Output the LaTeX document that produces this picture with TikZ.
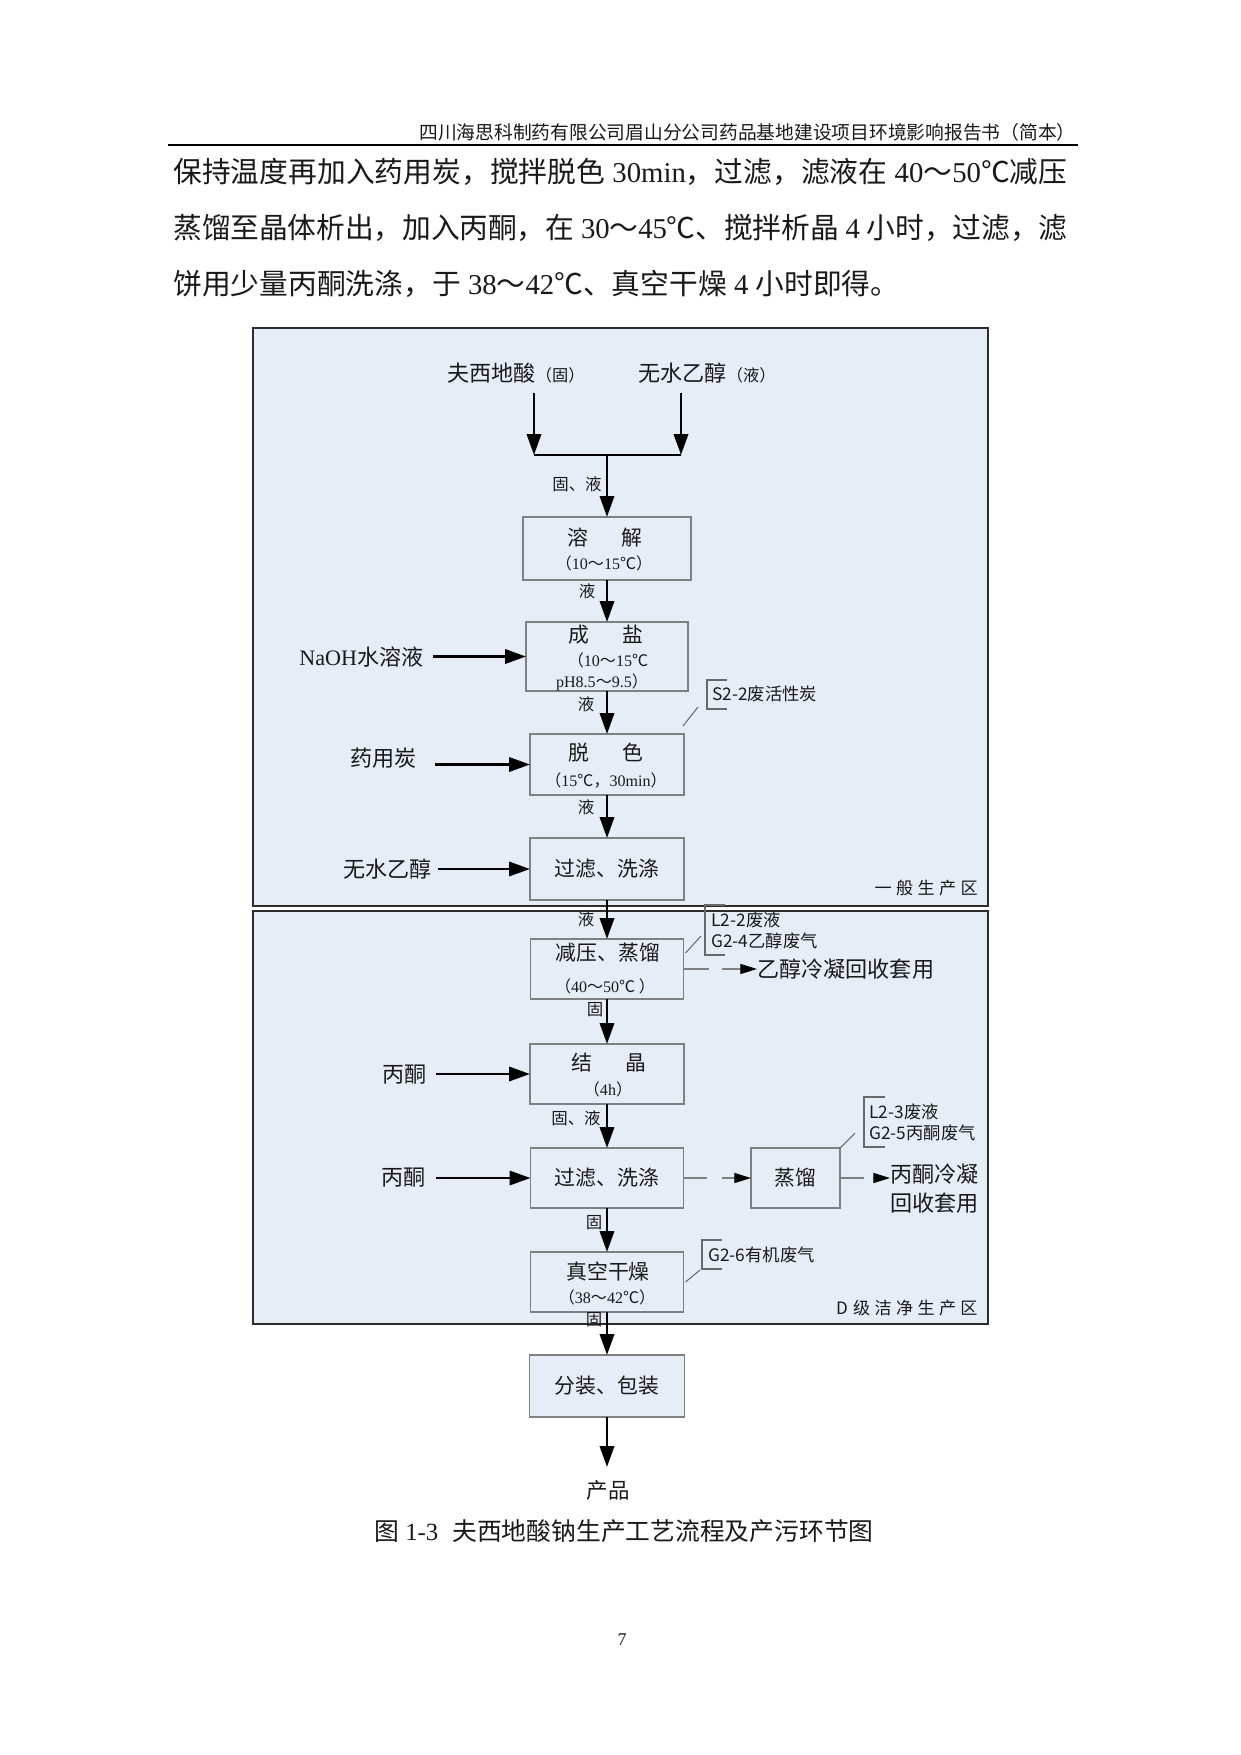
\documentclass[tikz,border=0pt]{standalone}
\usepackage{fontspec}
\setmainfont{Noto Sans CJK SC}
\newfontfamily\lat{Liberation Serif}
\usetikzlibrary{arrows.meta}
\definecolor{zonefill}{RGB}{230,237,247}
\definecolor{zoneline}{RGB}{45,45,45}
\definecolor{boxline}{RGB}{128,128,128}
\definecolor{brline}{RGB}{105,105,105}
\definecolor{txt}{RGB}{25,25,25}
\newcommand\tn[1]{{\lat #1}}
\newcommand\fsz[1]{\fontsize{#1}{#1}\selectfont}
\newlength\bodyw \setlength\bodyw{429.1pt}
\makeatletter
\newcommand\spreadline[2]{\hbox to #1{\@tfor\sx:=#2\do{\sx\hskip 0pt plus 1fil minus 0.6pt}\unskip}}
\makeatother
\tikzset{
 zone/.style={draw=zoneline, line width=1pt, fill=zonefill},
 box/.style={draw=boxline, line width=0.65pt, fill=zonefill, inner sep=0pt, outer sep=0pt, text=txt, font=\fsz{10pt}},
 arr/.style={line width=1.3pt, -{Triangle[length=10pt,width=6.8pt]}},
 tarr/.style={draw=boxline, line width=0.55pt, -{Triangle[length=8pt,width=4.8pt,black]}},
 br/.style={draw=brline, line width=0.5pt},
 lbl/.style={inner sep=0pt, text=txt},
 big/.style={lbl, font=\fsz{10.6pt}},
 ttl/.style={lbl, font=\fsz{10pt}},
 sub/.style={lbl, font=\fsz{7.7pt}},
 sm/.style={lbl, font=\fsz{7.9pt}},
 san/.style={lbl, font=\fsz{8.3pt}, anchor=west},
 bodytxt/.style={lbl, anchor=west, font=\fsz{13.8pt}},
}
\begin{document}
\begin{tikzpicture}[x=0.48pt,y=-0.48pt]
\useasboundingbox[fill=white] (0,0) rectangle (1241,1755);

% header and body text
\node[lbl, anchor=east, font=\fsz{9pt}] (hd) at (1076,132) {四川海思科制药有限公司眉山分公司药品基地建设项目环境影响报告书（简本）};
\draw[line width=0.8pt] (168,145) -- (1078,145);
\node[bodytxt] (bl1) at (173,172) {\spreadline{\bodyw}{保持温度再加入药用炭，搅拌脱色{\tn{ 30min}}，过滤，滤液在{\tn{ 40}}～{\tn{50}}℃减压}};
\node[bodytxt] (bl2) at (173,228) {\spreadline{\bodyw}{蒸馏至晶体析出，加入丙酮，在{\tn{ 30}}～{\tn{45}}℃、搅拌析晶{\tn{ 4 }}小时，过滤，滤}};
\node[bodytxt] (bl3) at (173,284) {饼用少量丙酮洗涤，于\tn{ 38}～\tn{42}℃、真空干燥\tn{ 4 }小时即得。};

% zones
\draw[zone] (253,328) rectangle (988,906);
\draw[zone] (253,911) rectangle (988,1324);
\node[lbl, anchor=east, font=\fsz{8.2pt}] (z1) at (978,888) {一\hspace{2.1pt}般\hspace{2.1pt}生\hspace{2.1pt}产\hspace{2.1pt}区};
\node[lbl, anchor=east, font=\fsz{8.2pt}] (z2) at (978,1308) {D\hspace{2.6pt}级\hspace{2.1pt}洁\hspace{2.1pt}净\hspace{2.1pt}生\hspace{2.1pt}产\hspace{2.1pt}区};

% process boxes
\node[box, minimum width=80.64pt, minimum height=30.24pt] (rj) at (607,548.5) {};
\node[box, minimum width=77.76pt, minimum height=33.12pt] (cy) at (607,656.5) {};
\node[box, minimum width=73.92pt, minimum height=29.28pt] (ts) at (607,764.5) {};
\node[box, minimum width=73.92pt, minimum height=29.76pt] (gl1) at (607,869) {过滤、洗涤};
\node[box, minimum width=73.44pt, minimum height=28.8pt] (jz) at (607,969) {};
\node[box, minimum width=73.92pt, minimum height=28.8pt] (jj) at (607,1074) {};
\node[box, minimum width=73.44pt, minimum height=28.8pt] (gl2) at (607,1178) {过滤、洗涤};
\node[box, minimum width=42.72pt, minimum height=28.8pt] (zl) at (795.5,1178) {蒸馏};
\node[box, minimum width=73.44pt, minimum height=28.8pt] (zk) at (607,1282) {};
\node[box, minimum width=74.4pt, minimum height=29.76pt] (fz) at (607,1386) {分装、包装};

% two-line box texts
\node[ttl] (rjt) at (605,538) {溶\hspace{1.6em}解};
\node[sub] (rjs) at (604,563) {（\tn{10}～\tn{15}℃）};
\node[ttl] (cyt) at (606,635) {成\hspace{1.6em}盐};
\node[sub] (cys1) at (608,660) {（\tn{10}～\tn{15}℃};
\node[sub] (cys2) at (602,682) {\tn{pH8.5}～\tn{9.5}）};
\node[ttl] (tst) at (606,753) {脱\hspace{1.6em}色};
\node[sub] (tss) at (606,780) {（\tn{15}℃，\tn{30min}）};
\node[ttl] (jzt) at (608,953) {减压、蒸馏};
\node[sub] (jzs) at (605,986) {（\tn{40}～\tn{50}℃ ）};
\node[ttl] (jjt) at (609,1063) {结\hspace{1.6em}晶};
\node[sub] (jjs) at (608,1089) {（\tn{4h}）};
\node[ttl] (zkt) at (608,1272) {真空干燥};
\node[sub] (zks) at (607,1297) {（\tn{38}～\tn{42}℃）};

% raw materials at top
\node[big, anchor=west] (fx) at (447,373) {夫西地酸{\fsz{7.8pt}（固）}};
\node[big, anchor=west] (wy) at (638,373) {无水乙醇{\fsz{7.8pt}（液）}};
\coordinate (a1) at (534,393); \coordinate (m1) at (534,455);
\coordinate (a2) at (681,393); \coordinate (m2) at (681,455);
\coordinate (mm) at (607,455);
\draw[arr] (a1) -- (m1);
\draw[arr] (a2) -- (m2);
\draw[line width=1.3pt] (m1) -- (m2);
\draw[arr] (mm) -- (rj);
\node[sm] at (577,484) {固、液};

% main chain
\draw[arr] (rj) -- (cy);
\draw[arr] (cy) -- (ts);
\draw[arr] (ts) -- (gl1);
\draw[arr] (gl1) -- (jz);
\draw[arr] (jz) -- (jj);
\draw[arr] (jj) -- (gl2);
\draw[arr] (gl2) -- (zk);
\draw[arr] (zk) -- (fz);
\coordinate (pe) at (607,1467);
\draw[arr] (fz) -- (pe);
\node[lbl, font=\fsz{10.3pt}] (cp) at (608,1490) {产品};

\node[sm] at (587,591) {液};
\node[sm] at (586,704) {液};
\node[sm] at (586,807) {液};
\node[sm] at (586,919) {液};
\node[sm] at (595,1010) {固};
\node[sm] at (576,1118) {固、液};
\node[sm] at (594,1223) {固};
\node[sm] at (594,1320) {固};

% side inputs
\node[big, anchor=west] (naoh) at (299,657) {\tn{NaOH}水溶液};
\coordinate (n1) at (433,656.5);
\draw[arr] (n1) -- (cy.west);
\node[big, anchor=west] (yyt) at (350,758) {药用炭};
\coordinate (y1) at (435,764.5);
\draw[arr] (y1) -- (ts.west);
\node[big, anchor=west] (wsy) at (343,869) {无水乙醇};
\coordinate (w1) at (438,869);
\draw[arr] (w1) -- (gl1.west);
\node[big, anchor=west] (bt) at (382,1075) {丙酮};
\coordinate (b1) at (436,1074);
\draw[arr] (b1) -- (jj.west);
\node[big, anchor=west] (bt2x) at (381,1178) {丙酮};
\coordinate (b2) at (436,1178);
\draw[arr] (b2) -- (gl2.west);

% side outputs
\node[big, anchor=west] (ey) at (757,969) {乙醇冷凝回收套用};
\draw[tarr, dash pattern=on 12pt off 6.7pt] (jz.east) -- (ey.west);
\draw[tarr, dash pattern=on 11.5pt off 7pt] (gl2) -- (zl);
\node[big, anchor=west] (bq1) at (890,1174) {丙酮冷凝};
\node[big, anchor=west] (bq2) at (890,1203) {回收套用};
\coordinate (bqa) at (890,1178);
\draw[tarr, dash pattern=on 11.3pt off 4.5pt] (zl.east) -- (bqa);

% pollutant callouts
\draw[br] (727,680) -- (707,680) -- (707,709) -- (727,709);
\coordinate (s2c) at (698,707);
\draw[br] ([shift={(-1,-8)}]ts.north east) -- (s2c);
\node[san] (s2) at (712,694) {S2-2废活性炭};

\draw[br] (725,905) -- (705,905) -- (705,955) -- (725,955);
\coordinate (l2c) at (701,936);
\draw[br] ([shift={(2,14)}]jz.north east) -- (l2c);
\node[san] (l22) at (711,920) {L2-2废液};
\node[san] (g24) at (711,941) {G2-4乙醇废气};

\draw[br] (885,1097) -- (864,1097) -- (864,1147) -- (885,1147);
\coordinate (l3c) at (855,1133);
\draw[br] (zl.north east) -- (l3c);
\node[san] (l23) at (869,1112) {L2-3废液};
\node[san] (g25) at (869,1133) {G2-5丙酮废气};

\draw[br] (722,1240) -- (702,1240) -- (702,1269) -- (722,1269);
\coordinate (g6c) at (700,1270);
\draw[br] ([shift={(2,0)}]zk.east) -- (g6c);
\node[san] (g26) at (708,1255) {G2-6有机废气};

% caption and page number
\node[lbl, anchor=west, font=\fsz{11.9pt}] (cap) at (374,1531) {图\hspace{2.9pt}\tn{1-3}\hspace{6.7pt}夫西地酸钠生产工艺流程及产污环节图};
\node[lbl, font=\lat\fsz{8.6pt}] (pg) at (622,1640) {7};
\end{tikzpicture}
\end{document}
